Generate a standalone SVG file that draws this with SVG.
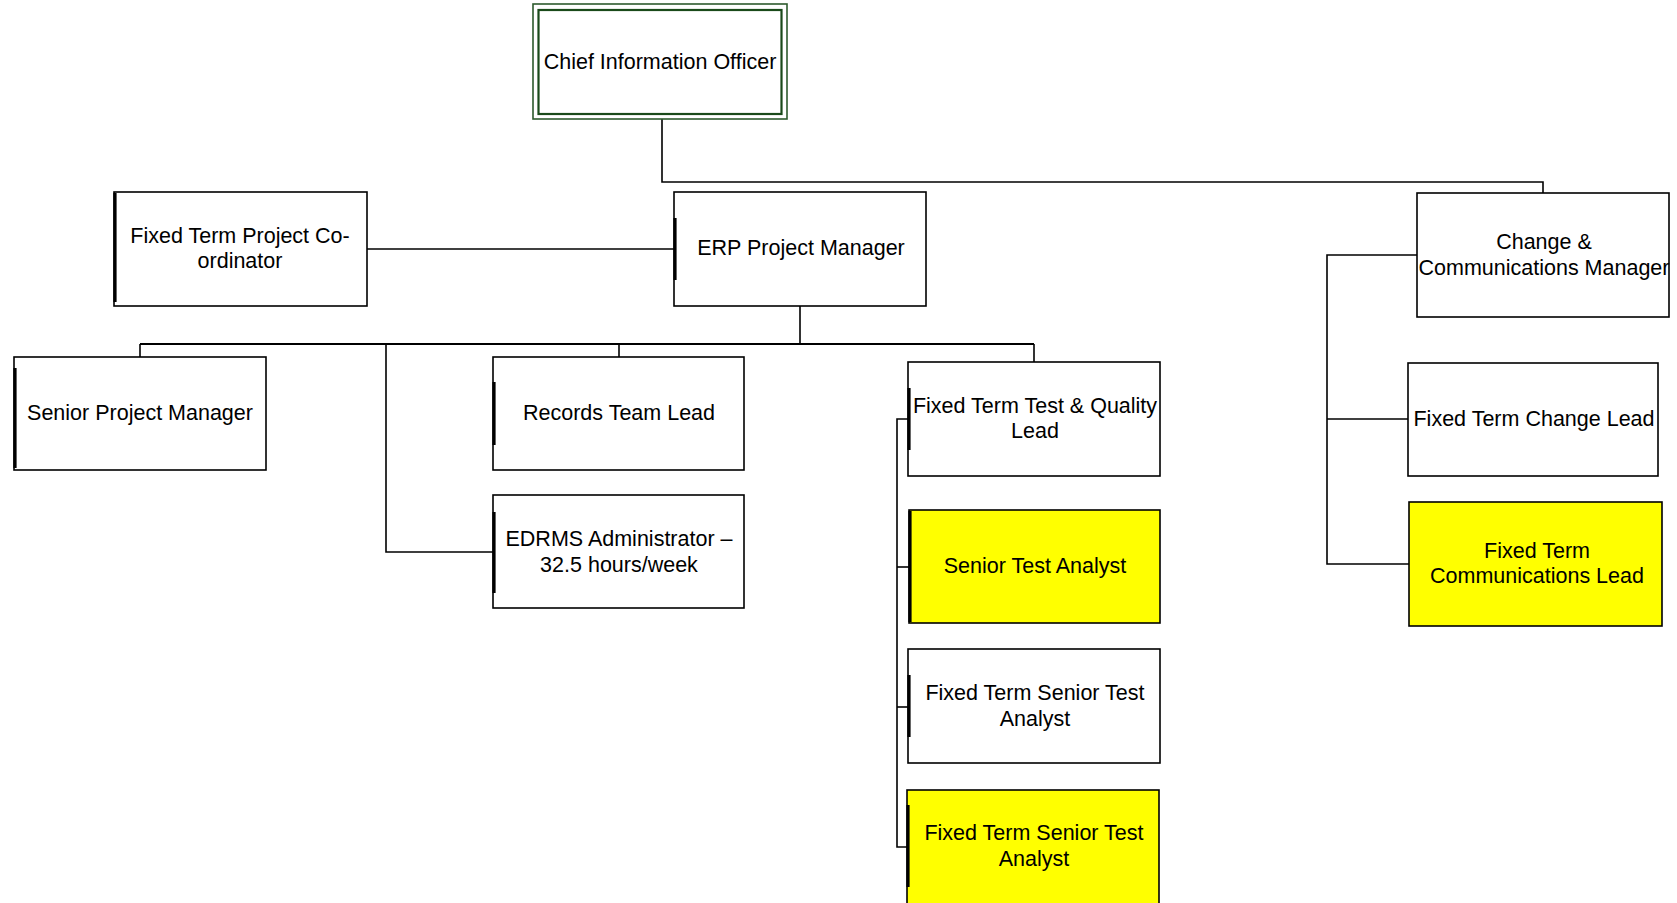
<svg xmlns="http://www.w3.org/2000/svg" width="1677" height="903" viewBox="0 0 1677 903">
<style>
.box{fill:#fff;stroke:#000;stroke-width:1.6}
.y{fill:#ffff00}
.bar{stroke:#000;stroke-width:3.2;fill:none}
.c{fill:none;stroke:#000;stroke-width:1.6}
text{font-family:"Liberation Sans",Arial,sans-serif;font-size:21.5px;fill:#000;text-anchor:middle}
</style>
<rect width="1677" height="903" fill="#fff"/>
<g id="connectors">
<polyline class="c" points="662,119 662,182 1543,182 1543,193"/>
<line class="c" x1="367" y1="249" x2="674" y2="249"/>
<polyline class="c" points="800,306 800,344"/>
<line class="c" x1="140" y1="344" x2="1034" y2="344" style="stroke-width:2"/>
<line class="c" x1="140" y1="344" x2="140" y2="357"/>
<line class="c" x1="619" y1="344" x2="619" y2="357"/>
<polyline class="c" points="386,344 386,552 493,552"/>
<line class="c" x1="1034" y1="344" x2="1034" y2="362"/>
<polyline class="c" points="908,419 897,419 897,847 907,847"/>
<line class="c" x1="897" y1="567" x2="909" y2="567"/>
<line class="c" x1="897" y1="707" x2="908" y2="707"/>
<polyline class="c" points="1417,255 1327,255 1327,564 1409,564"/>
<line class="c" x1="1327" y1="419" x2="1408" y2="419"/>
</g>
<g id="cio">
<rect x="533" y="4" width="254" height="115" fill="#fff" stroke="#2d5a2d" stroke-width="1.6"/>
<rect x="538.5" y="10" width="243" height="104" fill="none" stroke="#1a4a1a" stroke-width="2.2"/>
<text x="660" y="69">Chief Information Officer</text>
</g>
<g id="ftpc">
<rect class="box" x="114" y="192" width="253" height="114"/>
<line class="bar" x1="115" y1="193" x2="115" y2="302"/>
<text x="240" y="243">Fixed Term Project Co-</text>
<text x="240" y="268">ordinator</text>
</g>
<g id="erp">
<rect class="box" x="674" y="192" width="252" height="114"/>
<line class="bar" x1="675" y1="218" x2="675" y2="280"/>
<text x="801" y="255">ERP Project Manager</text>
</g>
<g id="ccm">
<rect class="box" x="1417" y="193" width="252" height="124"/>
<text x="1544" y="249">Change &amp;</text>
<text x="1544" y="275">Communications Manager</text>
</g>
<g id="spm">
<rect class="box" x="14" y="357" width="252" height="113"/>
<line class="bar" x1="15" y1="368" x2="15" y2="468"/>
<text x="140" y="420">Senior Project Manager</text>
</g>
<g id="rtl">
<rect class="box" x="493" y="357" width="251" height="113"/>
<line class="bar" x1="494" y1="382" x2="494" y2="445"/>
<text x="619" y="420">Records Team Lead</text>
</g>
<g id="edrms">
<rect class="box" x="493" y="495" width="251" height="113"/>
<line class="bar" x1="494" y1="512" x2="494" y2="593"/>
<text x="619" y="546">EDRMS Administrator –</text>
<text x="619" y="572">32.5 hours/week</text>
</g>
<g id="fttql">
<rect class="box" x="908" y="362" width="252" height="114"/>
<line class="bar" x1="909" y1="388" x2="909" y2="450"/>
<text x="1035" y="413">Fixed Term Test &amp; Quality</text>
<text x="1035" y="438">Lead</text>
</g>
<g id="sta">
<rect class="box y" x="909" y="510" width="251" height="113"/>
<line class="bar" x1="910" y1="511" x2="910" y2="622"/>
<text x="1035" y="573">Senior Test Analyst</text>
</g>
<g id="ftsta">
<rect class="box" x="908" y="649" width="252" height="114"/>
<line class="bar" x1="909" y1="675" x2="909" y2="737"/>
<text x="1035" y="700">Fixed Term Senior Test</text>
<text x="1035" y="726">Analyst</text>
</g>
<g id="ftsta2">
<rect class="box y" x="907" y="790" width="252" height="120"/>
<line class="bar" x1="908" y1="805" x2="908" y2="887"/>
<text x="1034" y="840">Fixed Term Senior Test</text>
<text x="1034" y="866">Analyst</text>
</g>
<g id="ftcl">
<rect class="box" x="1408" y="363" width="250" height="113"/>
<text x="1534" y="426">Fixed Term Change Lead</text>
</g>
<g id="ftcoml">
<rect class="box y" x="1409" y="502" width="253" height="124"/>
<text x="1537" y="558">Fixed Term</text>
<text x="1537" y="583">Communications Lead</text>
</g>
</svg>
